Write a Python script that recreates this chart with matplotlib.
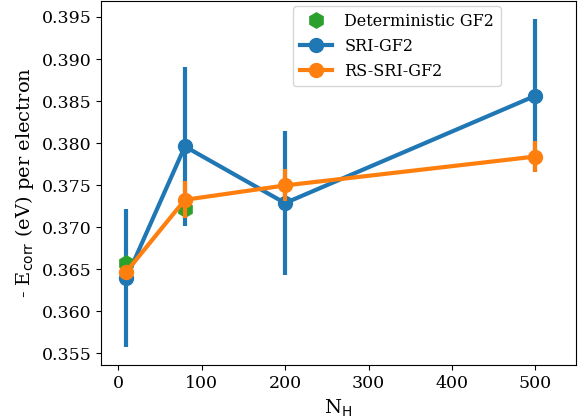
import numpy as np
import matplotlib
matplotlib.use('Agg')
import matplotlib.pyplot as plt

plt.rcParams['font.family'] = 'DejaVu Serif'

# data
n_h = [10, 80, 200, 500]
sri = [0.36396, 0.3796, 0.37286, 0.38563]
sri_err = [0.0082, 0.0095, 0.0086, 0.0091]
rs_sri = [0.36471, 0.37325, 0.37496, 0.37840]
rs_sri_err = [0.0006, 0.0022, 0.0019, 0.0019]
det_x = [10, 80]
det = [0.36571, 0.37218]

fig = plt.figure(figsize=(5.85, 4.19), dpi=100)
ax = fig.add_axes([101/585, 1 - 365/419, 474.5/585, 364/419])

ax.errorbar(n_h, sri, yerr=sri_err, fmt='none', ecolor='#1f77b4', elinewidth=3)
l_sri, = ax.plot(n_h, sri, '-o', color='#1f77b4', lw=3, ms=10, label='SRI-GF2')
l_det, = ax.plot(det_x, det, 'h', color='#2ca02c', ms=11, label='Deterministic GF2')
ax.errorbar(n_h, rs_sri, yerr=rs_sri_err, fmt='none', ecolor='#ff7f0e', elinewidth=3)
l_rs, = ax.plot(n_h, rs_sri, '-o', color='#ff7f0e', lw=3, ms=10, label='RS-SRI-GF2')

ax.set_xlim(-20.5, 548)
ax.set_ylim(0.3536, 0.3969)
ax.set_yticks(np.arange(0.355, 0.3951, 0.005))
ax.set_xticks([0, 100, 200, 300, 400, 500])
ax.tick_params(labelsize=12.5)
ax.set_xlabel(r'N$_{\rm H}$', fontsize=14)
ax.set_ylabel(r'- E$_{\rm corr}$ (eV) per electron', fontsize=14)

ax.legend(handles=[l_det, l_sri, l_rs], loc='upper left',
          bbox_to_anchor=(0.405, 0.985), borderaxespad=0, fontsize=11.5)

fig.savefig('out.png', dpi=100)
